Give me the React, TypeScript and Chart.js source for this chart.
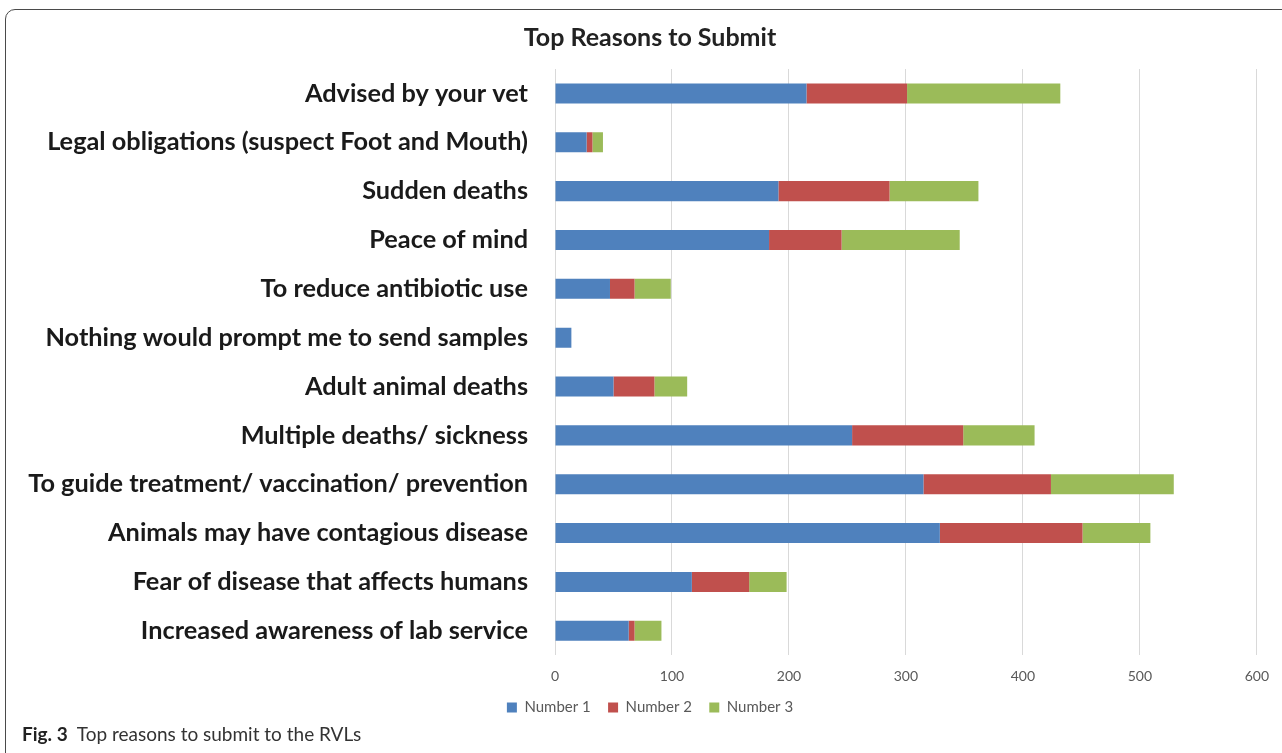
import React, { useEffect, useRef } from "react";
import { Chart, registerables } from "chart.js";

Chart.register(...registerables);

const categories = [
  "Advised by your vet",
  "Legal obligations (suspect Foot and Mouth)",
  "Sudden deaths",
  "Peace of mind",
  "To reduce antibiotic use",
  "Nothing would prompt me to send samples",
  "Adult animal deaths",
  "Multiple deaths/ sickness",
  "To guide treatment/ vaccination/ prevention",
  "Animals may have contagious disease",
  "Fear of disease that affects humans",
  "Increased awareness of lab service",
];

const number1 = [215, 27, 191, 183, 47, 14, 50, 254, 315, 329, 117, 63];
const number2 = [86, 5, 95, 62, 21, 0, 35, 95, 109, 122, 49, 5];
const number3 = [131, 9, 76, 101, 31, 0, 28, 61, 105, 58, 32, 23];

const xMin = 0;
const xMax = 600;
const xStep = 100;

const seriesNames = ["Number 1", "Number 2", "Number 3"];
const seriesColors = ["#4F81BD", "#C0504D", "#9BBB59"];

const titleText = "Top Reasons to Submit";
const captionBold = "Fig. 3";
const captionText = "Top reasons to submit to the RVLs";

export default function App() {
  const canvasRef = useRef<HTMLCanvasElement | null>(null);

  useEffect(() => {
    const canvas = canvasRef.current;
    if (!canvas) return;
    const values = [number1, number2, number3];
    const chart = new Chart(canvas, {
      type: "bar",
      data: {
        labels: categories,
        datasets: values.map((v, i) => ({
          label: seriesNames[i],
          data: v,
          backgroundColor: seriesColors[i],
          borderWidth: 0,
          barPercentage: 0.41,
          categoryPercentage: 1,
        })),
      },
      options: {
        indexAxis: "y",
        animation: false,
        responsive: false,
        maintainAspectRatio: false,
        layout: { padding: { left: 42, right: 24, top: 0, bottom: 28 } },
        plugins: {
          title: {
            display: true,
            text: titleText,
            color: "#222222",
            font: { family: "Lato", size: 25, weight: "bold" },
            padding: { top: 23, bottom: 16 },
          },
          legend: {
            display: true,
            position: "bottom",
            labels: {
              boxWidth: 10,
              boxHeight: 10,
              color: "#595959",
              font: { family: "Lato", size: 15 },
              padding: 2,
              generateLabels: (ch: any) => {
                const items = Chart.defaults.plugins.legend.labels.generateLabels(ch);
                return items.map((item: any, i: number) => ({
                  ...item,
                  text: i < items.length - 1 ? item.text + "    " : item.text,
                }));
              },
            },
          },
          tooltip: { enabled: false },
        },
        scales: {
          x: {
            stacked: true,
            min: xMin,
            max: xMax,
            ticks: {
              stepSize: xStep,
              color: "#595959",
              font: { family: "Lato", size: 14 },
              padding: 13,
            },
            grid: { color: "#d9d9d9", drawTicks: false },
            border: { display: false },
          },
          y: {
            stacked: true,
            ticks: {
              color: "#1a1a1a",
              font: { family: "Lato", size: 25.3, weight: "bold" },
              padding: 27,
            },
            grid: { display: false, drawTicks: false },
            border: { display: false },
            afterFit: (scale: any) => {
              scale.width = 513;
              scale._computeLabelArea = () => undefined;
            },
          },
        },
      },
    });
    return () => chart.destroy();
  }, []);

  return (
    <div
      style={{
        position: "absolute",
        left: 0,
        top: 0,
        width: 1282,
        height: 753,
        overflow: "hidden",
        background: "#ffffff",
      }}
    >
      <canvas
        ref={canvasRef}
        width={1282}
        height={753}
        style={{ position: "absolute", left: 0, top: 0, width: 1282, height: 753 }}
      />
      <div
        style={{
          position: "absolute",
          left: 5,
          top: 9,
          width: 1400,
          height: 900,
          border: "1.5px solid #4a4a4a",
          borderTopLeftRadius: 10,
          boxSizing: "border-box",
          pointerEvents: "none",
        }}
      />
      <div
        style={{
          position: "absolute",
          left: 22,
          top: 722,
          fontFamily: "Lato",
          fontSize: 19,
          color: "#333333",
          whiteSpace: "nowrap",
        }}
      >
        <span style={{ fontWeight: "bold", color: "#222222" }}>{captionBold}</span>
        <span style={{ marginLeft: 9 }}>{captionText}</span>
      </div>
    </div>
  );
}
